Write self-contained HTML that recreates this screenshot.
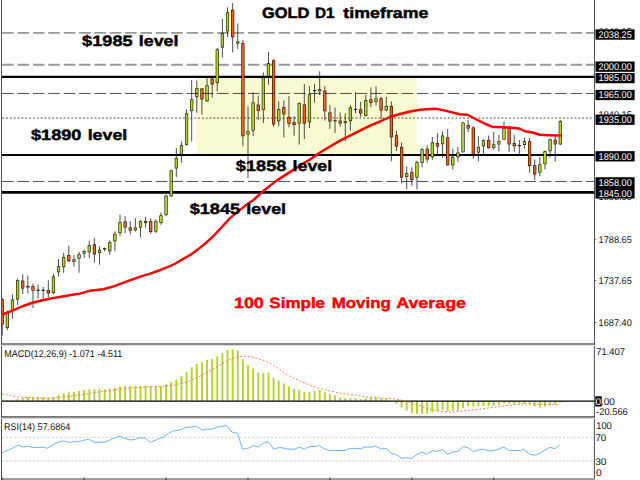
<!DOCTYPE html>
<html><head><meta charset="utf-8"><title>GOLD D1 timeframe</title>
<style>
html,body{margin:0;padding:0;background:#fff;}
body{width:640px;height:480px;overflow:hidden;position:relative;font-family:"Liberation Sans",sans-serif;}
svg{position:absolute;left:0;top:0;display:block;}
text{font-family:"Liberation Sans",sans-serif;}
.big{font-weight:bold;font-size:15px;fill:#000;stroke-width:0.45px;text-rendering:geometricPrecision;}
.ax{font-size:9.8px;fill:#111;text-rendering:geometricPrecision;}
.axw{font-size:9.8px;fill:#fff;text-rendering:geometricPrecision;}
</style></head><body>
<svg width="640" height="480" viewBox="0 0 640 480">
<rect x="0" y="0" width="640" height="480" fill="#fff"/>
<rect x="196.5" y="76.8" width="220.3" height="78.2" fill="#fafad2"/>
<g stroke="#000" fill="none">
<line x1="1.9" y1="76.85" x2="594.6" y2="76.85" stroke-width="2.1"/>
<line x1="1.9" y1="155" x2="594.6" y2="155" stroke-width="2.1"/>
<line x1="1.9" y1="192.3" x2="594.6" y2="192.3" stroke-width="2.8"/>
</g>
<line x1="2.24" y1="32.9" x2="594" y2="32.9" stroke="#989898" stroke-width="1.92" stroke-dasharray="11.52 3.84"/>
<line x1="2.24" y1="64.8" x2="594" y2="64.8" stroke="#989898" stroke-width="1.92" stroke-dasharray="11.52 3.84"/>
<line x1="2.24" y1="118.05" x2="594" y2="118.05" stroke="#000" stroke-width="0.7" stroke-dasharray="1.92 1.92"/>
<clipPath id="cc"><rect x="2" y="0" width="592" height="343.4"/></clipPath>
<g id="candles" clip-path="url(#cc)">
<line x1="2.24" y1="298" x2="2.24" y2="335.6" stroke="#000" stroke-width="0.7"/>
<rect x="0.64" y="299.4" width="3.2" height="25" fill="#260c00"/>
<rect x="1.28" y="300.04" width="1.92" height="23.72" fill="#f4641a"/>
<line x1="7.36" y1="310.6" x2="7.36" y2="330.2" stroke="#000" stroke-width="0.7"/>
<rect x="5.76" y="312" width="3.2" height="16" fill="#141a00"/>
<rect x="6.4" y="312.64" width="1.92" height="14.72" fill="#b4d622"/>
<line x1="12.48" y1="294.4" x2="12.48" y2="318.5" stroke="#000" stroke-width="0.7"/>
<rect x="10.88" y="299.6" width="3.2" height="11" fill="#141a00"/>
<rect x="11.52" y="300.24" width="1.92" height="9.72" fill="#b4d622"/>
<line x1="17.6" y1="278.5" x2="17.6" y2="305" stroke="#000" stroke-width="0.7"/>
<rect x="16" y="280.25" width="3.2" height="19.15" fill="#141a00"/>
<rect x="16.64" y="280.89" width="1.92" height="17.87" fill="#b4d622"/>
<line x1="22.72" y1="274.4" x2="22.72" y2="294" stroke="#000" stroke-width="0.7"/>
<rect x="21.12" y="280.6" width="3.2" height="7.9" fill="#260c00"/>
<rect x="21.76" y="281.24" width="1.92" height="6.62" fill="#f4641a"/>
<line x1="27.84" y1="275.6" x2="27.84" y2="293.5" stroke="#000" stroke-width="0.7"/>
<rect x="26.24" y="286" width="3.2" height="1.5" fill="#141a00"/>
<rect x="26.88" y="286.6" width="1.92" height="0.3" fill="#b4d622"/>
<line x1="32.96" y1="283.5" x2="32.96" y2="308" stroke="#000" stroke-width="0.7"/>
<rect x="31.36" y="286.25" width="3.2" height="4.35" fill="#260c00"/>
<rect x="32" y="286.89" width="1.92" height="3.07" fill="#f4641a"/>
<line x1="38.08" y1="284.4" x2="38.08" y2="298.75" stroke="#000" stroke-width="0.7"/>
<rect x="36.48" y="289.75" width="3.2" height="1" fill="#000"/>
<line x1="43.2" y1="286.9" x2="43.2" y2="299.4" stroke="#000" stroke-width="0.7"/>
<rect x="41.6" y="289.75" width="3.2" height="1" fill="#000"/>
<line x1="48.32" y1="280.3" x2="48.32" y2="297.5" stroke="#000" stroke-width="0.7"/>
<rect x="46.72" y="290" width="3.2" height="3.5" fill="#260c00"/>
<rect x="47.36" y="290.64" width="1.92" height="2.22" fill="#f4641a"/>
<line x1="53.44" y1="274.2" x2="53.44" y2="294.4" stroke="#000" stroke-width="0.7"/>
<rect x="51.84" y="276.5" width="3.2" height="16.6" fill="#141a00"/>
<rect x="52.48" y="277.14" width="1.92" height="15.32" fill="#b4d622"/>
<line x1="58.56" y1="259" x2="58.56" y2="276.5" stroke="#000" stroke-width="0.7"/>
<rect x="56.96" y="266.25" width="3.2" height="6" fill="#141a00"/>
<rect x="57.6" y="266.89" width="1.92" height="4.72" fill="#b4d622"/>
<line x1="63.68" y1="252.75" x2="63.68" y2="272.75" stroke="#000" stroke-width="0.7"/>
<rect x="62.08" y="256.9" width="3.2" height="10.35" fill="#141a00"/>
<rect x="62.72" y="257.54" width="1.92" height="9.07" fill="#b4d622"/>
<line x1="68.8" y1="245.6" x2="68.8" y2="261.9" stroke="#000" stroke-width="0.7"/>
<rect x="67.2" y="255" width="3.2" height="6.25" fill="#260c00"/>
<rect x="67.84" y="255.64" width="1.92" height="4.97" fill="#f4641a"/>
<line x1="73.92" y1="255" x2="73.92" y2="266.5" stroke="#000" stroke-width="0.7"/>
<rect x="72.32" y="259.4" width="3.2" height="2.5" fill="#141a00"/>
<rect x="72.96" y="260.04" width="1.92" height="1.22" fill="#b4d622"/>
<line x1="79.04" y1="251.9" x2="79.04" y2="272.75" stroke="#000" stroke-width="0.7"/>
<rect x="77.44" y="254.4" width="3.2" height="4.1" fill="#141a00"/>
<rect x="78.08" y="255.04" width="1.92" height="2.82" fill="#b4d622"/>
<line x1="84.16" y1="249.75" x2="84.16" y2="257.75" stroke="#000" stroke-width="0.7"/>
<rect x="82.56" y="251.25" width="3.2" height="2.25" fill="#141a00"/>
<rect x="83.2" y="251.89" width="1.92" height="0.97" fill="#b4d622"/>
<line x1="89.28" y1="240.6" x2="89.28" y2="258.1" stroke="#000" stroke-width="0.7"/>
<rect x="87.68" y="245.25" width="3.2" height="7" fill="#141a00"/>
<rect x="88.32" y="245.89" width="1.92" height="5.72" fill="#b4d622"/>
<line x1="94.4" y1="238.1" x2="94.4" y2="262.5" stroke="#000" stroke-width="0.7"/>
<rect x="92.8" y="244.4" width="3.2" height="10" fill="#260c00"/>
<rect x="93.44" y="245.04" width="1.92" height="8.72" fill="#f4641a"/>
<line x1="99.52" y1="246.25" x2="99.52" y2="264.75" stroke="#000" stroke-width="0.7"/>
<rect x="97.92" y="249.75" width="3.2" height="3.35" fill="#141a00"/>
<rect x="98.56" y="250.39" width="1.92" height="2.07" fill="#b4d622"/>
<line x1="104.64" y1="247.5" x2="104.64" y2="251.5" stroke="#000" stroke-width="0.7"/>
<rect x="103.04" y="248.1" width="3.2" height="1.3" fill="#260c00"/>
<rect x="103.68" y="248.6" width="1.92" height="0.3" fill="#f4641a"/>
<line x1="109.76" y1="240.25" x2="109.76" y2="254.75" stroke="#000" stroke-width="0.7"/>
<rect x="108.16" y="242.25" width="3.2" height="9" fill="#141a00"/>
<rect x="108.8" y="242.89" width="1.92" height="7.72" fill="#b4d622"/>
<line x1="114.88" y1="231.25" x2="114.88" y2="251.25" stroke="#000" stroke-width="0.7"/>
<rect x="113.28" y="233.75" width="3.2" height="7.5" fill="#141a00"/>
<rect x="113.92" y="234.39" width="1.92" height="6.22" fill="#b4d622"/>
<line x1="120" y1="214.4" x2="120" y2="236.25" stroke="#000" stroke-width="0.7"/>
<rect x="118.4" y="222.25" width="3.2" height="10.85" fill="#141a00"/>
<rect x="119.04" y="222.89" width="1.92" height="9.57" fill="#b4d622"/>
<line x1="125.12" y1="216.25" x2="125.12" y2="233.1" stroke="#000" stroke-width="0.7"/>
<rect x="123.52" y="221.5" width="3.2" height="6" fill="#260c00"/>
<rect x="124.16" y="222.14" width="1.92" height="4.72" fill="#f4641a"/>
<line x1="130.24" y1="221.25" x2="130.24" y2="234.4" stroke="#000" stroke-width="0.7"/>
<rect x="128.64" y="227.5" width="3.2" height="3.1" fill="#260c00"/>
<rect x="129.28" y="228.14" width="1.92" height="1.82" fill="#f4641a"/>
<line x1="135.36" y1="218.1" x2="135.36" y2="231.5" stroke="#000" stroke-width="0.7"/>
<rect x="133.76" y="227.5" width="3.2" height="2.75" fill="#141a00"/>
<rect x="134.4" y="228.14" width="1.92" height="1.47" fill="#b4d622"/>
<line x1="140.48" y1="220" x2="140.48" y2="237.25" stroke="#000" stroke-width="0.7"/>
<rect x="138.88" y="221.25" width="3.2" height="6.25" fill="#141a00"/>
<rect x="139.52" y="221.89" width="1.92" height="4.97" fill="#b4d622"/>
<line x1="145.6" y1="216.9" x2="145.6" y2="227.5" stroke="#000" stroke-width="0.7"/>
<rect x="144" y="221" width="3.2" height="2.1" fill="#141a00"/>
<rect x="144.64" y="221.64" width="1.92" height="0.82" fill="#b4d622"/>
<line x1="150.72" y1="218.1" x2="150.72" y2="233.75" stroke="#000" stroke-width="0.7"/>
<rect x="149.12" y="221.25" width="3.2" height="10.65" fill="#260c00"/>
<rect x="149.76" y="221.89" width="1.92" height="9.37" fill="#f4641a"/>
<line x1="155.84" y1="219.4" x2="155.84" y2="233.1" stroke="#000" stroke-width="0.7"/>
<rect x="154.24" y="221.25" width="3.2" height="10.25" fill="#141a00"/>
<rect x="154.88" y="221.89" width="1.92" height="8.97" fill="#b4d622"/>
<line x1="160.96" y1="212.5" x2="160.96" y2="224.75" stroke="#000" stroke-width="0.7"/>
<rect x="159.36" y="215.4" width="3.2" height="7.5" fill="#141a00"/>
<rect x="160" y="216.04" width="1.92" height="6.22" fill="#b4d622"/>
<line x1="166.08" y1="194.75" x2="166.08" y2="216.25" stroke="#000" stroke-width="0.7"/>
<rect x="164.48" y="195.6" width="3.2" height="19.15" fill="#141a00"/>
<rect x="165.12" y="196.24" width="1.92" height="17.87" fill="#b4d622"/>
<line x1="171.2" y1="169.6" x2="171.2" y2="197" stroke="#000" stroke-width="0.7"/>
<rect x="169.6" y="170.5" width="3.2" height="25.75" fill="#141a00"/>
<rect x="170.24" y="171.14" width="1.92" height="24.47" fill="#b4d622"/>
<line x1="176.32" y1="148.1" x2="176.32" y2="177" stroke="#000" stroke-width="0.7"/>
<rect x="174.72" y="158.1" width="3.2" height="10.3" fill="#141a00"/>
<rect x="175.36" y="158.74" width="1.92" height="9.02" fill="#b4d622"/>
<line x1="181.44" y1="141.25" x2="181.44" y2="162.75" stroke="#000" stroke-width="0.7"/>
<rect x="179.84" y="145.25" width="3.2" height="9.15" fill="#141a00"/>
<rect x="180.48" y="145.89" width="1.92" height="7.87" fill="#b4d622"/>
<line x1="186.56" y1="109.4" x2="186.56" y2="145.5" stroke="#000" stroke-width="0.7"/>
<rect x="184.96" y="113.5" width="3.2" height="31.25" fill="#141a00"/>
<rect x="185.6" y="114.14" width="1.92" height="29.97" fill="#b4d622"/>
<line x1="191.68" y1="80" x2="191.68" y2="141.5" stroke="#000" stroke-width="0.7"/>
<rect x="190.08" y="99.4" width="3.2" height="11.6" fill="#141a00"/>
<rect x="190.72" y="100.04" width="1.92" height="10.32" fill="#b4d622"/>
<line x1="196.8" y1="80.6" x2="196.8" y2="112.75" stroke="#000" stroke-width="0.7"/>
<rect x="195.2" y="88.3" width="3.2" height="8.6" fill="#141a00"/>
<rect x="195.84" y="88.94" width="1.92" height="7.32" fill="#b4d622"/>
<line x1="201.92" y1="88" x2="201.92" y2="114.75" stroke="#000" stroke-width="0.7"/>
<rect x="200.32" y="88.5" width="3.2" height="10.9" fill="#260c00"/>
<rect x="200.96" y="89.14" width="1.92" height="9.62" fill="#f4641a"/>
<line x1="207.04" y1="78.1" x2="207.04" y2="102" stroke="#000" stroke-width="0.7"/>
<rect x="205.44" y="85.4" width="3.2" height="15.85" fill="#141a00"/>
<rect x="206.08" y="86.04" width="1.92" height="14.57" fill="#b4d622"/>
<line x1="212.16" y1="78" x2="212.16" y2="97.5" stroke="#000" stroke-width="0.7"/>
<rect x="210.56" y="78.5" width="3.2" height="5.9" fill="#260c00"/>
<rect x="211.2" y="79.14" width="1.92" height="4.62" fill="#f4641a"/>
<line x1="217.28" y1="48" x2="217.28" y2="91.25" stroke="#000" stroke-width="0.7"/>
<rect x="215.68" y="49.4" width="3.2" height="33.7" fill="#141a00"/>
<rect x="216.32" y="50.04" width="1.92" height="32.42" fill="#b4d622"/>
<line x1="222.4" y1="18.75" x2="222.4" y2="57.4" stroke="#000" stroke-width="0.7"/>
<rect x="220.8" y="33.1" width="3.2" height="14.4" fill="#141a00"/>
<rect x="221.44" y="33.74" width="1.92" height="13.12" fill="#b4d622"/>
<line x1="227.52" y1="7.25" x2="227.52" y2="36.9" stroke="#000" stroke-width="0.7"/>
<rect x="225.92" y="12.25" width="3.2" height="19" fill="#141a00"/>
<rect x="226.56" y="12.89" width="1.92" height="17.72" fill="#b4d622"/>
<line x1="232.64" y1="3.1" x2="232.64" y2="52.25" stroke="#000" stroke-width="0.7"/>
<rect x="231.04" y="9.75" width="3.2" height="27.5" fill="#260c00"/>
<rect x="231.68" y="10.39" width="1.92" height="26.22" fill="#f4641a"/>
<line x1="237.76" y1="23.5" x2="237.76" y2="48.9" stroke="#000" stroke-width="0.7"/>
<rect x="236.16" y="41.4" width="3.2" height="2.1" fill="#141a00"/>
<rect x="236.8" y="42.04" width="1.92" height="0.82" fill="#b4d622"/>
<line x1="242.88" y1="40" x2="242.88" y2="146.2" stroke="#000" stroke-width="0.7"/>
<rect x="241.28" y="43.1" width="3.2" height="93.15" fill="#260c00"/>
<rect x="241.92" y="43.74" width="1.92" height="91.87" fill="#f4641a"/>
<line x1="248" y1="106.25" x2="248" y2="178" stroke="#000" stroke-width="0.7"/>
<rect x="246.4" y="131.25" width="3.2" height="3.15" fill="#141a00"/>
<rect x="247.04" y="131.89" width="1.92" height="1.87" fill="#b4d622"/>
<line x1="253.12" y1="92.5" x2="253.12" y2="136.25" stroke="#000" stroke-width="0.7"/>
<rect x="251.52" y="102.5" width="3.2" height="28.1" fill="#141a00"/>
<rect x="252.16" y="103.14" width="1.92" height="26.82" fill="#b4d622"/>
<line x1="258.24" y1="95.6" x2="258.24" y2="120" stroke="#000" stroke-width="0.7"/>
<rect x="256.64" y="104.6" width="3.2" height="6.2" fill="#260c00"/>
<rect x="257.28" y="105.24" width="1.92" height="4.92" fill="#f4641a"/>
<line x1="263.36" y1="72.4" x2="263.36" y2="123.1" stroke="#000" stroke-width="0.7"/>
<rect x="261.76" y="77.5" width="3.2" height="32.5" fill="#141a00"/>
<rect x="262.4" y="78.14" width="1.92" height="31.22" fill="#b4d622"/>
<line x1="268.48" y1="51.9" x2="268.48" y2="84.75" stroke="#000" stroke-width="0.7"/>
<rect x="266.88" y="63.1" width="3.2" height="13.15" fill="#141a00"/>
<rect x="267.52" y="63.74" width="1.92" height="11.87" fill="#b4d622"/>
<line x1="273.6" y1="59.4" x2="273.6" y2="126.9" stroke="#000" stroke-width="0.7"/>
<rect x="272" y="60.25" width="3.2" height="64.15" fill="#260c00"/>
<rect x="272.64" y="60.89" width="1.92" height="62.87" fill="#f4641a"/>
<line x1="278.72" y1="101.25" x2="278.72" y2="126.5" stroke="#000" stroke-width="0.7"/>
<rect x="277.12" y="109" width="3.2" height="12.25" fill="#141a00"/>
<rect x="277.76" y="109.64" width="1.92" height="10.97" fill="#b4d622"/>
<line x1="283.84" y1="100.6" x2="283.84" y2="137.5" stroke="#000" stroke-width="0.7"/>
<rect x="282.24" y="107.25" width="3.2" height="7.15" fill="#260c00"/>
<rect x="282.88" y="107.89" width="1.92" height="5.87" fill="#f4641a"/>
<line x1="288.96" y1="96" x2="288.96" y2="127.25" stroke="#000" stroke-width="0.7"/>
<rect x="287.36" y="116.9" width="3.2" height="6.85" fill="#260c00"/>
<rect x="288" y="117.54" width="1.92" height="5.57" fill="#f4641a"/>
<line x1="294.08" y1="116.25" x2="294.08" y2="135.6" stroke="#000" stroke-width="0.7"/>
<rect x="292.48" y="122.25" width="3.2" height="2.75" fill="#260c00"/>
<rect x="293.12" y="122.89" width="1.92" height="1.47" fill="#f4641a"/>
<line x1="299.2" y1="102.5" x2="299.2" y2="144.6" stroke="#000" stroke-width="0.7"/>
<rect x="297.6" y="103.1" width="3.2" height="20.4" fill="#141a00"/>
<rect x="298.24" y="103.74" width="1.92" height="19.12" fill="#b4d622"/>
<line x1="304.32" y1="84" x2="304.32" y2="139" stroke="#000" stroke-width="0.7"/>
<rect x="302.72" y="104.5" width="3.2" height="19" fill="#260c00"/>
<rect x="303.36" y="105.14" width="1.92" height="17.72" fill="#f4641a"/>
<line x1="309.44" y1="86.25" x2="309.44" y2="128.1" stroke="#000" stroke-width="0.7"/>
<rect x="307.84" y="94.4" width="3.2" height="27.8" fill="#141a00"/>
<rect x="308.48" y="95.04" width="1.92" height="26.52" fill="#b4d622"/>
<line x1="314.56" y1="83.9" x2="314.56" y2="102.6" stroke="#000" stroke-width="0.7"/>
<rect x="312.96" y="90.1" width="3.2" height="1" fill="#000"/>
<line x1="319.68" y1="71.25" x2="319.68" y2="95" stroke="#000" stroke-width="0.7"/>
<rect x="318.08" y="89.2" width="3.2" height="2.05" fill="#141a00"/>
<rect x="318.72" y="89.84" width="1.92" height="0.77" fill="#b4d622"/>
<line x1="324.8" y1="86.25" x2="324.8" y2="120.6" stroke="#000" stroke-width="0.7"/>
<rect x="323.2" y="90.6" width="3.2" height="20.65" fill="#260c00"/>
<rect x="323.84" y="91.24" width="1.92" height="19.37" fill="#f4641a"/>
<line x1="329.92" y1="105.25" x2="329.92" y2="128.75" stroke="#000" stroke-width="0.7"/>
<rect x="328.32" y="112.5" width="3.2" height="9" fill="#260c00"/>
<rect x="328.96" y="113.14" width="1.92" height="7.72" fill="#f4641a"/>
<line x1="335.04" y1="107.5" x2="335.04" y2="133.1" stroke="#000" stroke-width="0.7"/>
<rect x="333.44" y="120" width="3.2" height="1.3" fill="#141a00"/>
<rect x="334.08" y="120.5" width="1.92" height="0.3" fill="#b4d622"/>
<line x1="340.16" y1="112.5" x2="340.16" y2="126.9" stroke="#000" stroke-width="0.7"/>
<rect x="338.56" y="120.6" width="3.2" height="2.9" fill="#260c00"/>
<rect x="339.2" y="121.24" width="1.92" height="1.62" fill="#f4641a"/>
<line x1="345.28" y1="113.1" x2="345.28" y2="141.25" stroke="#000" stroke-width="0.7"/>
<rect x="343.68" y="121.25" width="3.2" height="1.85" fill="#141a00"/>
<rect x="344.32" y="121.89" width="1.92" height="0.57" fill="#b4d622"/>
<line x1="350.4" y1="105" x2="350.4" y2="130.6" stroke="#000" stroke-width="0.7"/>
<rect x="348.8" y="107.5" width="3.2" height="13.75" fill="#141a00"/>
<rect x="349.44" y="108.14" width="1.92" height="12.47" fill="#b4d622"/>
<line x1="355.52" y1="92.25" x2="355.52" y2="113.1" stroke="#000" stroke-width="0.7"/>
<rect x="353.92" y="108.9" width="3.2" height="1" fill="#000"/>
<line x1="360.64" y1="101.9" x2="360.64" y2="116.9" stroke="#000" stroke-width="0.7"/>
<rect x="359.04" y="109.4" width="3.2" height="4.1" fill="#260c00"/>
<rect x="359.68" y="110.04" width="1.92" height="2.82" fill="#f4641a"/>
<line x1="365.76" y1="95" x2="365.76" y2="116.5" stroke="#000" stroke-width="0.7"/>
<rect x="364.16" y="100.25" width="3.2" height="15.75" fill="#141a00"/>
<rect x="364.8" y="100.89" width="1.92" height="14.47" fill="#b4d622"/>
<line x1="370.88" y1="87.5" x2="370.88" y2="107.25" stroke="#000" stroke-width="0.7"/>
<rect x="369.28" y="99.4" width="3.2" height="3.7" fill="#260c00"/>
<rect x="369.92" y="100.04" width="1.92" height="2.42" fill="#f4641a"/>
<line x1="376" y1="86.25" x2="376" y2="105.6" stroke="#000" stroke-width="0.7"/>
<rect x="374.4" y="98.5" width="3.2" height="3.4" fill="#141a00"/>
<rect x="375.04" y="99.14" width="1.92" height="2.12" fill="#b4d622"/>
<line x1="381.12" y1="96.9" x2="381.12" y2="119.2" stroke="#000" stroke-width="0.7"/>
<rect x="379.52" y="98.3" width="3.2" height="12.3" fill="#260c00"/>
<rect x="380.16" y="98.94" width="1.92" height="11.02" fill="#f4641a"/>
<line x1="386.24" y1="96.9" x2="386.24" y2="111.25" stroke="#000" stroke-width="0.7"/>
<rect x="384.64" y="106" width="3.2" height="4.4" fill="#141a00"/>
<rect x="385.28" y="106.64" width="1.92" height="3.12" fill="#b4d622"/>
<line x1="391.36" y1="101.25" x2="391.36" y2="161.25" stroke="#000" stroke-width="0.7"/>
<rect x="389.76" y="106" width="3.2" height="31.2" fill="#260c00"/>
<rect x="390.4" y="106.64" width="1.92" height="29.92" fill="#f4641a"/>
<line x1="396.48" y1="130.6" x2="396.48" y2="151" stroke="#000" stroke-width="0.7"/>
<rect x="394.88" y="135.25" width="3.2" height="11.25" fill="#260c00"/>
<rect x="395.52" y="135.89" width="1.92" height="9.97" fill="#f4641a"/>
<line x1="401.6" y1="142.5" x2="401.6" y2="183.5" stroke="#000" stroke-width="0.7"/>
<rect x="400" y="146.9" width="3.2" height="30.6" fill="#260c00"/>
<rect x="400.64" y="147.54" width="1.92" height="29.32" fill="#f4641a"/>
<line x1="406.72" y1="166.25" x2="406.72" y2="189.4" stroke="#000" stroke-width="0.7"/>
<rect x="405.12" y="173.1" width="3.2" height="3.8" fill="#141a00"/>
<rect x="405.76" y="173.74" width="1.92" height="2.52" fill="#b4d622"/>
<line x1="411.84" y1="167.25" x2="411.84" y2="186.25" stroke="#000" stroke-width="0.7"/>
<rect x="410.24" y="171.9" width="3.2" height="8.1" fill="#260c00"/>
<rect x="410.88" y="172.54" width="1.92" height="6.82" fill="#f4641a"/>
<line x1="416.96" y1="160.6" x2="416.96" y2="189.4" stroke="#000" stroke-width="0.7"/>
<rect x="415.36" y="162.25" width="3.2" height="15.25" fill="#141a00"/>
<rect x="416" y="162.89" width="1.92" height="13.97" fill="#b4d622"/>
<line x1="422.08" y1="148.1" x2="422.08" y2="167.25" stroke="#000" stroke-width="0.7"/>
<rect x="420.48" y="149.4" width="3.2" height="13.35" fill="#141a00"/>
<rect x="421.12" y="150.04" width="1.92" height="12.07" fill="#b4d622"/>
<line x1="427.2" y1="145.25" x2="427.2" y2="162.75" stroke="#000" stroke-width="0.7"/>
<rect x="425.6" y="148.75" width="3.2" height="10.65" fill="#260c00"/>
<rect x="426.24" y="149.39" width="1.92" height="9.37" fill="#f4641a"/>
<line x1="432.32" y1="137" x2="432.32" y2="159.75" stroke="#000" stroke-width="0.7"/>
<rect x="430.72" y="142.4" width="3.2" height="14.85" fill="#141a00"/>
<rect x="431.36" y="143.04" width="1.92" height="13.57" fill="#b4d622"/>
<line x1="437.44" y1="133.1" x2="437.44" y2="154.4" stroke="#000" stroke-width="0.7"/>
<rect x="435.84" y="143.1" width="3.2" height="3.4" fill="#260c00"/>
<rect x="436.48" y="143.74" width="1.92" height="2.12" fill="#f4641a"/>
<line x1="442.56" y1="131.25" x2="442.56" y2="157.75" stroke="#000" stroke-width="0.7"/>
<rect x="440.96" y="135.6" width="3.2" height="8.6" fill="#141a00"/>
<rect x="441.6" y="136.24" width="1.92" height="7.32" fill="#b4d622"/>
<line x1="447.68" y1="129" x2="447.68" y2="165.6" stroke="#000" stroke-width="0.7"/>
<rect x="446.08" y="137.4" width="3.2" height="27.85" fill="#260c00"/>
<rect x="446.72" y="138.04" width="1.92" height="26.57" fill="#f4641a"/>
<line x1="452.8" y1="148.75" x2="452.8" y2="169.4" stroke="#000" stroke-width="0.7"/>
<rect x="451.2" y="156.9" width="3.2" height="8.35" fill="#141a00"/>
<rect x="451.84" y="157.54" width="1.92" height="7.07" fill="#b4d622"/>
<line x1="457.92" y1="146.9" x2="457.92" y2="161.6" stroke="#000" stroke-width="0.7"/>
<rect x="456.32" y="152.5" width="3.2" height="4.75" fill="#141a00"/>
<rect x="456.96" y="153.14" width="1.92" height="3.47" fill="#b4d622"/>
<line x1="463.04" y1="121.9" x2="463.04" y2="152.5" stroke="#000" stroke-width="0.7"/>
<rect x="461.44" y="122.5" width="3.2" height="29.75" fill="#141a00"/>
<rect x="462.08" y="123.14" width="1.92" height="28.47" fill="#b4d622"/>
<line x1="468.16" y1="120" x2="468.16" y2="131.9" stroke="#000" stroke-width="0.7"/>
<rect x="466.56" y="125" width="3.2" height="3.5" fill="#260c00"/>
<rect x="467.2" y="125.64" width="1.92" height="2.22" fill="#f4641a"/>
<line x1="473.28" y1="126.25" x2="473.28" y2="158.75" stroke="#000" stroke-width="0.7"/>
<rect x="471.68" y="127.5" width="3.2" height="26.9" fill="#260c00"/>
<rect x="472.32" y="128.14" width="1.92" height="25.62" fill="#f4641a"/>
<line x1="478.4" y1="136.25" x2="478.4" y2="161.25" stroke="#000" stroke-width="0.7"/>
<rect x="476.8" y="146.9" width="3.2" height="5.6" fill="#141a00"/>
<rect x="477.44" y="147.54" width="1.92" height="4.32" fill="#b4d622"/>
<line x1="483.52" y1="139.4" x2="483.52" y2="154.4" stroke="#000" stroke-width="0.7"/>
<rect x="481.92" y="140.25" width="3.2" height="6" fill="#141a00"/>
<rect x="482.56" y="140.89" width="1.92" height="4.72" fill="#b4d622"/>
<line x1="488.64" y1="135.6" x2="488.64" y2="148.5" stroke="#000" stroke-width="0.7"/>
<rect x="487.04" y="140" width="3.2" height="8.1" fill="#260c00"/>
<rect x="487.68" y="140.64" width="1.92" height="6.82" fill="#f4641a"/>
<line x1="493.76" y1="131.9" x2="493.76" y2="149.75" stroke="#000" stroke-width="0.7"/>
<rect x="492.16" y="144.4" width="3.2" height="3.35" fill="#141a00"/>
<rect x="492.8" y="145.04" width="1.92" height="2.07" fill="#b4d622"/>
<line x1="498.88" y1="135" x2="498.88" y2="151.25" stroke="#000" stroke-width="0.7"/>
<rect x="497.28" y="141.25" width="3.2" height="3.15" fill="#141a00"/>
<rect x="497.92" y="141.89" width="1.92" height="1.87" fill="#b4d622"/>
<line x1="504" y1="121.25" x2="504" y2="140" stroke="#000" stroke-width="0.7"/>
<rect x="502.4" y="128.1" width="3.2" height="11.3" fill="#141a00"/>
<rect x="503.04" y="128.74" width="1.92" height="10.02" fill="#b4d622"/>
<line x1="509.12" y1="125.6" x2="509.12" y2="151.9" stroke="#000" stroke-width="0.7"/>
<rect x="507.52" y="128.1" width="3.2" height="16.3" fill="#260c00"/>
<rect x="508.16" y="128.74" width="1.92" height="15.02" fill="#f4641a"/>
<line x1="514.24" y1="135" x2="514.24" y2="151.9" stroke="#000" stroke-width="0.7"/>
<rect x="512.64" y="143.1" width="3.2" height="3.15" fill="#260c00"/>
<rect x="513.28" y="143.74" width="1.92" height="1.87" fill="#f4641a"/>
<line x1="519.36" y1="140" x2="519.36" y2="154.4" stroke="#000" stroke-width="0.7"/>
<rect x="517.76" y="145.1" width="3.2" height="1" fill="#000"/>
<line x1="524.48" y1="137.5" x2="524.48" y2="148.75" stroke="#000" stroke-width="0.7"/>
<rect x="522.88" y="141.25" width="3.2" height="3.75" fill="#141a00"/>
<rect x="523.52" y="141.89" width="1.92" height="2.47" fill="#b4d622"/>
<line x1="529.6" y1="138.1" x2="529.6" y2="172.75" stroke="#000" stroke-width="0.7"/>
<rect x="528" y="141.25" width="3.2" height="24.75" fill="#260c00"/>
<rect x="528.64" y="141.89" width="1.92" height="23.47" fill="#f4641a"/>
<line x1="534.72" y1="159.4" x2="534.72" y2="180" stroke="#000" stroke-width="0.7"/>
<rect x="533.12" y="165.25" width="3.2" height="9.15" fill="#260c00"/>
<rect x="533.76" y="165.89" width="1.92" height="7.87" fill="#f4641a"/>
<line x1="539.84" y1="156.9" x2="539.84" y2="176.25" stroke="#000" stroke-width="0.7"/>
<rect x="538.24" y="164.4" width="3.2" height="8.1" fill="#141a00"/>
<rect x="538.88" y="165.04" width="1.92" height="6.82" fill="#b4d622"/>
<line x1="544.96" y1="150.6" x2="544.96" y2="169.4" stroke="#000" stroke-width="0.7"/>
<rect x="543.36" y="151.25" width="3.2" height="12.95" fill="#141a00"/>
<rect x="544" y="151.89" width="1.92" height="11.67" fill="#b4d622"/>
<line x1="550.08" y1="138.75" x2="550.08" y2="157.5" stroke="#000" stroke-width="0.7"/>
<rect x="548.48" y="139.4" width="3.2" height="11.85" fill="#141a00"/>
<rect x="549.12" y="140.04" width="1.92" height="10.57" fill="#b4d622"/>
<line x1="555.2" y1="134" x2="555.2" y2="161.7" stroke="#000" stroke-width="0.7"/>
<rect x="553.6" y="139.75" width="3.2" height="4.65" fill="#260c00"/>
<rect x="554.24" y="140.39" width="1.92" height="3.37" fill="#f4641a"/>
<line x1="560.32" y1="120" x2="560.32" y2="145" stroke="#000" stroke-width="0.7"/>
<rect x="558.72" y="121.25" width="3.2" height="23.15" fill="#141a00"/>
<rect x="559.36" y="121.89" width="1.92" height="21.87" fill="#b4d622"/>
</g>
<polyline fill="none" stroke="#ff0000" stroke-width="2.45" stroke-linejoin="round" stroke-linecap="butt" points="2.2,314.5 12.5,310.6 22.5,306.25 32.5,302.75 42.5,300.25 52.5,298.1 62.5,296.5 72.5,294.75 80,293.6 89.4,290.8 103.4,289.2 114.4,286.1 126.9,281.4 142.5,275.9 150.3,273.6 161.25,269.7 170.6,265.8 175,263.75 182.8,259.1 190.6,254.7 198.4,248.9 206.25,242.7 214.1,235.3 221.9,227 229.7,218.4 237.5,211.9 245.3,205.6 253.1,200.3 263.5,190.8 277,180.4 290.6,171.6 304.2,162.8 310,159.5 320,152.5 330,146.5 340,140.6 350,135.6 360,130.6 370,125.6 380,121.5 390,117 400,114 410,111.5 420,109.75 430,109 435,108.75 440,109.4 450,111.9 460,114.2 467.5,114.75 475,118.75 485,123.75 492.5,126.9 500,126.9 507.5,127.5 515,128 520,128.75 525,131.25 532.5,132.5 540,134.75 550,135.25 561.5,135.6"/>
<g fill="none">
<line x1="2.24" y1="93.45" x2="594" y2="93.45" stroke="#000" stroke-width="0.7" stroke-dasharray="11.52 3.84"/>
<line x1="2.24" y1="181.45" x2="594" y2="181.45" stroke="#000" stroke-width="0.7" stroke-dasharray="11.52 3.84"/>
</g>
<text class="big" x="261.95" y="18.2" textLength="47.59" lengthAdjust="spacingAndGlyphs" style="fill:#000;stroke:#000">GOLD</text>
<text class="big" x="315.04" y="18.2" textLength="19.63" lengthAdjust="spacingAndGlyphs" style="fill:#000;stroke:#000">D1</text>
<text class="big" x="343.37" y="18.2" textLength="85.14" lengthAdjust="spacingAndGlyphs" style="fill:#000;stroke:#000">timeframe</text>
<text class="big" x="82.12" y="46.3" textLength="50.49" lengthAdjust="spacingAndGlyphs" style="fill:#000;stroke:#000">$1985</text>
<text class="big" x="138.8" y="46.3" textLength="39.67" lengthAdjust="spacingAndGlyphs" style="fill:#000;stroke:#000">level</text>
<text class="big" x="30.97" y="139.6" textLength="50.49" lengthAdjust="spacingAndGlyphs" style="fill:#000;stroke:#000">$1890</text>
<text class="big" x="87.65" y="139.6" textLength="39.67" lengthAdjust="spacingAndGlyphs" style="fill:#000;stroke:#000">level</text>
<text class="big" x="235.87" y="170.9" textLength="50.49" lengthAdjust="spacingAndGlyphs" style="fill:#000;stroke:#000">$1858</text>
<text class="big" x="292.55" y="170.9" textLength="39.67" lengthAdjust="spacingAndGlyphs" style="fill:#000;stroke:#000">level</text>
<text class="big" x="189.67" y="213.7" textLength="50.49" lengthAdjust="spacingAndGlyphs" style="fill:#000;stroke:#000">$1845</text>
<text class="big" x="246.35" y="213.7" textLength="39.67" lengthAdjust="spacingAndGlyphs" style="fill:#000;stroke:#000">level</text>
<text class="big" x="233.95" y="308.3" textLength="29.9" lengthAdjust="spacingAndGlyphs" style="fill:#ff0000;stroke:#ff0000">100</text>
<text class="big" x="269.39" y="308.3" textLength="55.67" lengthAdjust="spacingAndGlyphs" style="fill:#ff0000;stroke:#ff0000">Simple</text>
<text class="big" x="331.72" y="308.3" textLength="59.05" lengthAdjust="spacingAndGlyphs" style="fill:#ff0000;stroke:#ff0000">Moving</text>
<text class="big" x="396.21" y="308.3" textLength="69.79" lengthAdjust="spacingAndGlyphs" style="fill:#ff0000;stroke:#ff0000">Average</text>
<g fill="#3a3a3a">
<rect x="1.1" y="0" width="0.9" height="344.6"/>
<rect x="1.1" y="346" width="0.9" height="71.6"/>
<rect x="1.1" y="419" width="0.9" height="61"/>
<rect x="594.05" y="0" width="0.9" height="344.6"/>
<rect x="593.9" y="346" width="0.9" height="71.6"/>
<rect x="593.9" y="419" width="0.9" height="60.3"/>
<rect x="1.1" y="343.4" width="593.85" height="1.25"/>
<rect x="1.1" y="416.3" width="593.7" height="1.3"/>
</g>
<rect x="1.1" y="344.65" width="592.8" height="0.7" fill="#9c9c9c"/>
<rect x="1.1" y="345.35" width="592.8" height="0.65" fill="#d6d6d6"/>
<rect x="1.1" y="417.6" width="592.8" height="0.7" fill="#9c9c9c"/>
<rect x="1.1" y="418.3" width="592.8" height="0.65" fill="#d6d6d6"/>
<rect x="1.6" y="478.1" width="593" height="1.9" fill="#9a9a9a"/>
<rect x="1.69" y="477.7" width="1.1" height="2.3" fill="#333"/>
<rect x="83.61" y="477.7" width="1.1" height="2.3" fill="#333"/>
<rect x="165.53" y="477.7" width="1.1" height="2.3" fill="#333"/>
<rect x="247.45" y="477.7" width="1.1" height="2.3" fill="#333"/>
<rect x="329.37" y="477.7" width="1.1" height="2.3" fill="#333"/>
<rect x="411.29" y="477.7" width="1.1" height="2.3" fill="#333"/>
<rect x="493.21" y="477.7" width="1.1" height="2.3" fill="#333"/>
<g id="macd" fill="#b5d328">
<rect x="1.28" y="399" width="1.92" height="2.05"/>
<rect x="6.4" y="400.2" width="1.92" height="0.85"/>
<rect x="11.52" y="400.3" width="1.92" height="0.75"/>
<rect x="16.64" y="399" width="1.92" height="2.05"/>
<rect x="21.76" y="397.75" width="1.92" height="3.3"/>
<rect x="26.88" y="397.25" width="1.92" height="3.8"/>
<rect x="32" y="397.25" width="1.92" height="3.8"/>
<rect x="37.12" y="397.25" width="1.92" height="3.8"/>
<rect x="42.24" y="397.25" width="1.92" height="3.8"/>
<rect x="47.36" y="397.75" width="1.92" height="3.3"/>
<rect x="52.48" y="396.9" width="1.92" height="4.15"/>
<rect x="57.6" y="395.25" width="1.92" height="5.8"/>
<rect x="62.72" y="393.5" width="1.92" height="7.55"/>
<rect x="67.84" y="392.25" width="1.92" height="8.8"/>
<rect x="72.96" y="391.9" width="1.92" height="9.15"/>
<rect x="78.08" y="391" width="1.92" height="10.05"/>
<rect x="83.2" y="390" width="1.92" height="11.05"/>
<rect x="88.32" y="389.4" width="1.92" height="11.65"/>
<rect x="93.44" y="389.1" width="1.92" height="11.95"/>
<rect x="98.56" y="389.1" width="1.92" height="11.95"/>
<rect x="103.68" y="389.1" width="1.92" height="11.95"/>
<rect x="108.8" y="388.5" width="1.92" height="12.55"/>
<rect x="113.92" y="387.9" width="1.92" height="13.15"/>
<rect x="119.04" y="386.5" width="1.92" height="14.55"/>
<rect x="124.16" y="386" width="1.92" height="15.05"/>
<rect x="129.28" y="386" width="1.92" height="15.05"/>
<rect x="134.4" y="386" width="1.92" height="15.05"/>
<rect x="139.52" y="386" width="1.92" height="15.05"/>
<rect x="144.64" y="385.4" width="1.92" height="15.65"/>
<rect x="149.76" y="386.25" width="1.92" height="14.8"/>
<rect x="154.88" y="386.5" width="1.92" height="14.55"/>
<rect x="160" y="386.25" width="1.92" height="14.8"/>
<rect x="165.12" y="384.4" width="1.92" height="16.65"/>
<rect x="170.24" y="381.9" width="1.92" height="19.15"/>
<rect x="175.36" y="379.4" width="1.92" height="21.65"/>
<rect x="180.48" y="376.25" width="1.92" height="24.8"/>
<rect x="185.6" y="371.9" width="1.92" height="29.15"/>
<rect x="190.72" y="367.25" width="1.92" height="33.8"/>
<rect x="195.84" y="364" width="1.92" height="37.05"/>
<rect x="200.96" y="362.1" width="1.92" height="38.95"/>
<rect x="206.08" y="360" width="1.92" height="41.05"/>
<rect x="211.2" y="359" width="1.92" height="42.05"/>
<rect x="216.32" y="356.25" width="1.92" height="44.8"/>
<rect x="221.44" y="353.1" width="1.92" height="47.95"/>
<rect x="226.56" y="350" width="1.92" height="51.05"/>
<rect x="231.68" y="349.4" width="1.92" height="51.65"/>
<rect x="236.8" y="350.6" width="1.92" height="50.45"/>
<rect x="241.92" y="359" width="1.92" height="42.05"/>
<rect x="247.04" y="365.25" width="1.92" height="35.8"/>
<rect x="252.16" y="368.5" width="1.92" height="32.55"/>
<rect x="257.28" y="372.5" width="1.92" height="28.55"/>
<rect x="262.4" y="373.1" width="1.92" height="27.95"/>
<rect x="267.52" y="372.5" width="1.92" height="28.55"/>
<rect x="272.64" y="377.75" width="1.92" height="23.3"/>
<rect x="277.76" y="380.25" width="1.92" height="20.8"/>
<rect x="282.88" y="383.5" width="1.92" height="17.55"/>
<rect x="288" y="386.5" width="1.92" height="14.55"/>
<rect x="293.12" y="389" width="1.92" height="12.05"/>
<rect x="298.24" y="389.9" width="1.92" height="11.15"/>
<rect x="303.36" y="391.9" width="1.92" height="9.15"/>
<rect x="308.48" y="391.9" width="1.92" height="9.15"/>
<rect x="313.6" y="391" width="1.92" height="10.05"/>
<rect x="318.72" y="390" width="1.92" height="11.05"/>
<rect x="323.84" y="392.25" width="1.92" height="8.8"/>
<rect x="328.96" y="394" width="1.92" height="7.05"/>
<rect x="334.08" y="395.4" width="1.92" height="5.65"/>
<rect x="339.2" y="397.25" width="1.92" height="3.8"/>
<rect x="344.32" y="398.1" width="1.92" height="2.95"/>
<rect x="349.44" y="398.1" width="1.92" height="2.95"/>
<rect x="354.56" y="398.1" width="1.92" height="2.95"/>
<rect x="359.68" y="398.75" width="1.92" height="2.3"/>
<rect x="364.8" y="398.1" width="1.92" height="2.95"/>
<rect x="369.92" y="397.75" width="1.92" height="3.3"/>
<rect x="375.04" y="397.25" width="1.92" height="3.8"/>
<rect x="380.16" y="398.1" width="1.92" height="2.95"/>
<rect x="385.28" y="398.5" width="1.92" height="2.55"/>
<rect x="395.52" y="401.05" width="1.92" height="2.7"/>
<rect x="400.64" y="401.05" width="1.92" height="6.45"/>
<rect x="405.76" y="401.05" width="1.92" height="9.55"/>
<rect x="410.88" y="401.05" width="1.92" height="12.05"/>
<rect x="416" y="401.05" width="1.92" height="12.7"/>
<rect x="421.12" y="401.05" width="1.92" height="12.7"/>
<rect x="426.24" y="401.05" width="1.92" height="12.7"/>
<rect x="431.36" y="401.05" width="1.92" height="11.45"/>
<rect x="436.48" y="401.05" width="1.92" height="10.45"/>
<rect x="441.6" y="401.05" width="1.92" height="8.7"/>
<rect x="446.72" y="401.05" width="1.92" height="10.2"/>
<rect x="451.84" y="401.05" width="1.92" height="10.05"/>
<rect x="456.96" y="401.05" width="1.92" height="9.55"/>
<rect x="462.08" y="401.05" width="1.92" height="7.05"/>
<rect x="467.2" y="401.05" width="1.92" height="5.45"/>
<rect x="472.32" y="401.05" width="1.92" height="5.85"/>
<rect x="477.44" y="401.05" width="1.92" height="5.45"/>
<rect x="482.56" y="401.05" width="1.92" height="4.95"/>
<rect x="487.68" y="401.05" width="1.92" height="4.95"/>
<rect x="492.8" y="401.05" width="1.92" height="4.95"/>
<rect x="497.92" y="401.05" width="1.92" height="3.95"/>
<rect x="503.04" y="401.05" width="1.92" height="2.05"/>
<rect x="508.16" y="401.05" width="1.92" height="2.7"/>
<rect x="513.28" y="401.05" width="1.92" height="2.95"/>
<rect x="518.4" y="401.05" width="1.92" height="2.7"/>
<rect x="523.52" y="401.05" width="1.92" height="2.95"/>
<rect x="528.64" y="401.05" width="1.92" height="3.35"/>
<rect x="533.76" y="401.05" width="1.92" height="5.45"/>
<rect x="538.88" y="401.05" width="1.92" height="6.45"/>
<rect x="544" y="401.05" width="1.92" height="5.45"/>
<rect x="549.12" y="401.05" width="1.92" height="4.55"/>
<rect x="554.24" y="401.05" width="1.92" height="3.35"/>
<rect x="559.36" y="401.05" width="1.92" height="1.45"/>
</g>
<line x1="1.9" y1="401.05" x2="594.6" y2="401.05" stroke="#000" stroke-width="1.3"/>
<polyline fill="none" stroke="#ff5a2a" stroke-width="0.8" stroke-dasharray="1.92 1.92" points="2,394 10,395.25 17.5,396.9 25,397.5 40,398.1 50,398.1 60,397.25 70,396.25 75,395.6 87.5,393.75 100,391.9 112.5,390.25 125,388.5 137.5,387.5 150,386.8 162.5,386.25 175,385 187.5,381.9 200,376.25 212.5,369.4 225,361.9 231.25,358.75 237.5,356.9 243.75,356.25 250,356.5 256.25,358.1 262.5,360 268.75,362.5 275,366.25 281.25,370.6 287.5,375 293.75,378.1 300,380.8 306.25,383.5 312.5,386.25 318.75,388.1 325,390 331.25,391.25 337.5,392.5 343.75,393.75 350,394.4 356.25,395.25 362.5,396.5 368.75,397.25 375,397.25 381.25,398.1 387.5,398.5 393.75,398.75 400,399.75 406.25,401.25 412.5,403.1 418.75,405.25 425,407.5 431.25,409.4 437.5,410.6 443.75,411.6 450,412.25 456.25,411.6 462.5,411 468.75,410.25 475,409.75 481.25,409 487.5,408.1 493.75,407.5 500,406.5 506.25,405.6 512.5,405 518.75,404.4 525,404 530,403.9 540,404.2 550,404.3 560,404.4"/>
<line x1="2.24" y1="437.3" x2="594" y2="437.3" stroke="#b8b8b8" stroke-width="0.75" stroke-dasharray="1.92 1.92"/>
<line x1="2.24" y1="461.1" x2="594" y2="461.1" stroke="#b8b8b8" stroke-width="0.75" stroke-dasharray="1.92 1.92"/>
<polyline fill="none" stroke="#459fff" stroke-width="0.8" stroke-linejoin="round" points="2,453 13.6,447.6 18.35,445.2 23.1,447 28.5,446.3 32.6,447.4 44.9,447.4 47.6,448.3 54.4,443.8 61.2,441.2 65.25,441.2 69.3,442.5 76.1,441.5 80,441.25 83.75,440.25 88.75,439.4 95,442.5 105.6,441.9 112.5,438.75 120,436 123.75,438.1 130,440 135.6,439.4 138.75,437.9 145,437.9 150.6,442.5 155,440.25 163.75,436.75 168.75,433.25 173.1,431.1 180,429.9 186.25,427.4 192.5,427 196.25,426.1 202.25,430.25 206.25,429.25 212.5,429 216.25,427.4 221.25,426.5 226.5,425.5 231.9,432 237.5,433.25 242.5,449 247.5,448.6 253.75,445.5 258.1,447 263.75,442.75 268.1,441.75 273.75,449.25 279.4,447.4 285,448.4 289.4,449.25 294.4,449.25 299.4,447 304.4,449.25 309.4,446.5 316.25,446.5 318.5,445.25 323.75,448.4 329.4,450.5 345,450.5 349.4,448.4 357.5,448.4 360,449 365,447 371.9,447 375.6,446.25 381.5,449 386.25,448.25 391.25,453.4 396.25,454.5 401.9,458.4 406.25,457.75 411.25,458.6 416.9,454.5 421.9,452 426.5,454.25 432.5,450.75 436.9,451.5 442.25,449.5 447.75,454.25 452.5,452 457.75,451.5 463.1,446.5 468.1,447.75 473.5,451.5 481.25,449.25 484.4,449.5 489.4,451.1 495,450.25 498.75,449.25 503.5,447 509.4,450.5 520.6,450.5 523.5,449.25 530,454.25 535,455.25 538.75,454 543.75,450.75 550,447.4 555,448.6 559.75,444.9"/>
<text class="ax" x="4.33" y="357.2" textLength="117.92" lengthAdjust="spacingAndGlyphs">MACD(12,26,9) -1.071 -4.511</text>
<text class="ax" x="4.03" y="429.8" textLength="66.23" lengthAdjust="spacingAndGlyphs">RSI(14) 57.6864</text>
<text class="ax" x="598.55" y="34.7" textLength="33.28" lengthAdjust="spacingAndGlyphs">2040.15</text>
<text class="ax" x="598.55" y="118" textLength="33.28" lengthAdjust="spacingAndGlyphs">1940.15</text>
<text class="ax" x="598.55" y="200.3" textLength="33.28" lengthAdjust="spacingAndGlyphs">1838.90</text>
<text class="ax" x="598.55" y="242.9" textLength="33.28" lengthAdjust="spacingAndGlyphs">1788.65</text>
<text class="ax" x="598.55" y="284.1" textLength="33.28" lengthAdjust="spacingAndGlyphs">1737.65</text>
<text class="ax" x="598.55" y="326.3" textLength="33.28" lengthAdjust="spacingAndGlyphs">1687.40</text>
<rect x="595" y="238.8" width="1.2" height="0.8" fill="#333"/>
<rect x="595" y="280.1" width="1.2" height="0.8" fill="#333"/>
<rect x="595" y="322" width="1.2" height="0.8" fill="#333"/>
<rect x="595.5" y="29.4" width="39.1" height="10.3" fill="#000"/>
<text class="axw" x="598.55" y="37.9" textLength="33.28" lengthAdjust="spacingAndGlyphs">2038.25</text>
<rect x="595.5" y="61.5" width="39.1" height="10.3" fill="#000"/>
<text class="axw" x="598.55" y="70" textLength="33.28" lengthAdjust="spacingAndGlyphs">2000.00</text>
<rect x="595.5" y="72.95" width="39.1" height="10.3" fill="#000"/>
<text class="axw" x="598.55" y="81.45" textLength="33.28" lengthAdjust="spacingAndGlyphs">1985.00</text>
<rect x="595.5" y="89.85" width="39.1" height="10.3" fill="#000"/>
<text class="axw" x="598.55" y="98.35" textLength="33.28" lengthAdjust="spacingAndGlyphs">1965.00</text>
<rect x="595.5" y="114.55" width="39.1" height="10.3" fill="#000"/>
<text class="axw" x="598.55" y="123.05" textLength="33.28" lengthAdjust="spacingAndGlyphs">1935.00</text>
<rect x="595.5" y="151.15" width="39.1" height="10.3" fill="#000"/>
<text class="axw" x="598.55" y="159.65" textLength="33.28" lengthAdjust="spacingAndGlyphs">1890.00</text>
<rect x="595.5" y="177.25" width="39.1" height="11.5" fill="#000"/>
<text class="axw" x="598.55" y="185.75" textLength="33.28" lengthAdjust="spacingAndGlyphs">1858.00</text>
<rect x="595.5" y="188.25" width="39.1" height="10.3" fill="#000"/>
<text class="axw" x="598.55" y="196.75" textLength="33.28" lengthAdjust="spacingAndGlyphs">1845.00</text>
<text class="ax" x="596.2" y="355.3" textLength="28.68" lengthAdjust="spacingAndGlyphs">71.407</text>
<rect x="595.3" y="396.3" width="6.4" height="10.2" fill="#000"/>
<text class="ax" x="595.41" y="404.7" textLength="19.45" lengthAdjust="spacingAndGlyphs">0.00</text>
<clipPath id="zc"><rect x="595.3" y="396.3" width="6.4" height="10.2"/></clipPath>
<text class="axw" x="595.41" y="404.7" textLength="19.45" lengthAdjust="spacingAndGlyphs" clip-path="url(#zc)">0.00</text>
<text class="ax" x="596.08" y="414.6" textLength="31.76" lengthAdjust="spacingAndGlyphs">-20.566</text>
<text class="ax" x="596.23" y="428.9" textLength="15.59" lengthAdjust="spacingAndGlyphs">100</text>
<text class="ax" x="595.43" y="440.9" textLength="10.87" lengthAdjust="spacingAndGlyphs">70</text>
<text class="ax" x="595.15" y="464.7" textLength="11.23" lengthAdjust="spacingAndGlyphs">30</text>
<text class="ax" x="595.95" y="476" textLength="5.67" lengthAdjust="spacingAndGlyphs">0</text>
</svg>
</body></html>
